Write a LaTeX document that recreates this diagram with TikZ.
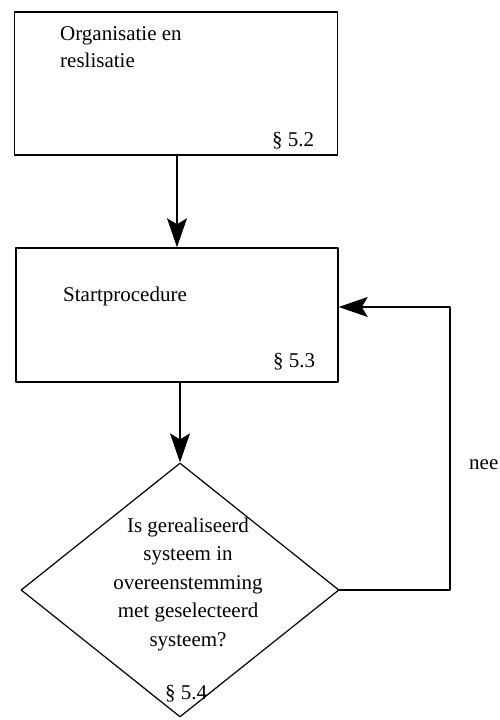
\documentclass[tikz,border=0pt]{standalone}
\usepackage{fontspec}
\setmainfont{Liberation Serif}
\usetikzlibrary{shapes.geometric,arrows.meta}
\begin{document}
\begin{tikzpicture}[x=1pt,y=1pt,>={Stealth[length=29pt,width=20pt,inset=6pt]},line cap=round,line join=round,
	box/.style={draw,line width=1.5pt,minimum width=323pt,inner sep=0pt},
	keuze/.style={draw,diamond,line width=1.2pt,minimum width=318pt,minimum height=254pt,inner sep=0pt},
	pijl/.style={->,line width=1.2pt},
	txt/.style={font=\fontsize{21}{27}\selectfont,inner sep=0pt}]
	\useasboundingbox (0,0) rectangle (499,720);
	\node[box,minimum height=143pt] (org) at (176,636.5) {};
	\node[box,minimum width=322pt,minimum height=134pt] (start) at (177,405) {};
	\node[keuze] (vraag) at (180,130) {};
	\coordinate (terug) at (450,413);
	\draw[pijl] (org.south -| start.north)--(start.north);
	\draw[pijl] (start.south -| vraag.north)--(vraag.north);
	\draw[pijl] (vraag.east) -| (terug)--(terug -| start.east);
	\node[txt,anchor=base west,align=left] (orgtekst) at (60,652) {Organisatie en\\reslisatie};
	\node[txt,anchor=base west] (p52) at (272,573) {\S{} 5.2};
	\node[txt,anchor=base west] (starttekst) at (63,418) {Startprocedure};
	\node[txt,anchor=base west] (p53) at (273,352) {\S{} 5.3};
	\node[txt,align=center,font=\fontsize{21}{28.5}\selectfont] (vraagtekst) at (188,136) {Is gerealiseerd\\systeem in\\overeenstemming\\met geselecteerd\\systeem?};
	\node[txt,anchor=base west] (p54) at (165,20) {\S{} 5.4};
	\node[txt,anchor=base west] (nee) at (469,250) {nee};
\end{tikzpicture}
\end{document}
